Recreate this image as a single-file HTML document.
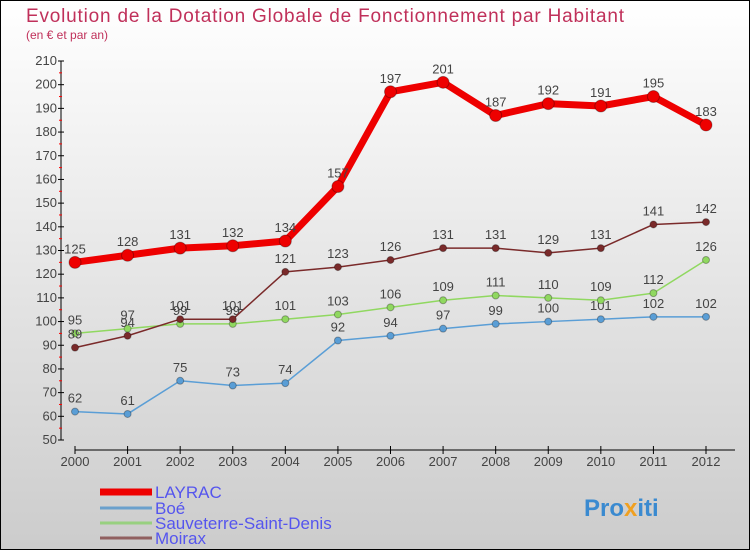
<!DOCTYPE html>
<html><head><meta charset="utf-8"><style>
body{margin:0;}
#c{width:750px;height:550px;position:relative;overflow:hidden;}
svg text{font-family:"Liberation Sans","DejaVu Sans",sans-serif;}
</style></head><body>
<div id="c">
<svg id="s" width="750" height="550" xmlns="http://www.w3.org/2000/svg">
<defs><linearGradient id="bg" x1="0" y1="0" x2="0" y2="1"><stop offset="0" stop-color="#ffffff"/><stop offset="1" stop-color="#cccccc"/></linearGradient></defs>
<rect x="0.5" y="0.5" width="749" height="549" fill="url(#bg)" stroke="#000"/>
<text x="26" y="22" font-size="19" fill="#c0305a" textLength="598">Evolution de la Dotation Globale de Fonctionnement par Habitant</text>
<text x="26" y="39" font-size="12" fill="#c0305a">(en € et par an)</text>
<g id="axes"></g><g id="series"></g><g id="legend"></g>
<text x="584" y="516" font-size="24" font-weight="bold" fill="#3a8ad0">Pro<tspan fill="#f0a020">x</tspan>iti</text>
</svg></div>
<script>
const years=[2000,2001,2002,2003,2004,2005,2006,2007,2008,2009,2010,2011,2012];
const yTicks=[50,60,70,80,90,100,110,120,130,140,150,160,170,180,190,200,210];
const layrac=[125,128,131,132,134,157,197,201,187,192,191,195,183];
const boe=[62,61,75,73,74,92,94,97,99,100,101,102,102];
const sauveterre=[95,97,99,99,101,103,106,109,111,110,109,112,126];
const moirax=[89,94,101,101,121,123,126,131,131,129,131,141,142];
const NS="http://www.w3.org/2000/svg";
function X(i){return 75+i*(706-75)/12;}
function Y(v){return 440-(v-50)*(440-61)/160;}
function mk(t,a,p){const e=document.createElementNS(NS,t);for(const k in a)e.setAttribute(k,a[k]);p.appendChild(e);return e;}
const ax=document.getElementById('axes');
let e=mk('line',{x1:61,y1:Y(210),x2:61,y2:Y(50),stroke:'#000'},ax);


e=mk('line',{x1:75,y1:450,x2:735,y2:450,stroke:'#000'},ax);


yTicks.forEach((v,i)=>{
 mk('line',{x1:58,y1:Y(v),x2:64,y2:Y(v),stroke:'#000'},ax);
 if(i<yTicks.length-1)mk('line',{x1:59,y1:Y(v+5),x2:62,y2:Y(v+5),stroke:'#f00'},ax);
 const t=mk('text',{x:57,y:Y(v)+4,'font-size':13,fill:'#444','text-anchor':'end'},ax);t.textContent=v;
 
 
});
years.forEach((y,i)=>{
 mk('line',{x1:X(i),y1:446,x2:X(i),y2:454,stroke:'#000'},ax);
 const t=mk('text',{x:X(i),y:466,'font-size':13,fill:'#444','text-anchor':'middle'},ax);t.textContent=y;
 
 
});
const sg=document.getElementById('series');
function series(vals,color,w,r,name){
 const g=mk('g',{},sg);
 
 
 mk('polyline',{points:vals.map((v,i)=>X(i)+','+Y(v)).join(' '),fill:'none',stroke:color,'stroke-width':w,'stroke-linejoin':'round'},g);
 vals.forEach((v,i)=>{
  const c=mk('circle',{cx:X(i),cy:Y(v),r:r,fill:color,stroke:'rgba(0,0,0,0.3)'},g);
  
  
  const t=mk('text',{x:X(i),y:Y(v)-9,'font-size':13,fill:'#444','text-anchor':'middle'},g);t.textContent=v;
  
  
 });
}
series(boe,'#5a9ed6',1.5,3.5,'boe');
series(sauveterre,'#90d860',1.5,3.5,'sauveterre');
series(moirax,'#7a2a2a',1.5,3.5,'moirax');
series(layrac,'#ee0000',7,6,'layrac');
const lg=document.getElementById('legend');
[['LAYRAC','#ee0000',7,492],['Boé','#6aa0cc',3,508],['Sauveterre-Saint-Denis','#98d080',3,523],['Moirax','#906060',3,538]].forEach(d=>{
 const g=mk('g',{},lg);
 
 
 mk('line',{x1:100,y1:d[3],x2:152,y2:d[3],stroke:d[1],'stroke-width':d[2]},g);
 const t=mk('text',{x:155,y:d[3]+6,'font-size':17,fill:'#5555ee'},g);t.textContent=d[0];
});
</script>
</body></html>
